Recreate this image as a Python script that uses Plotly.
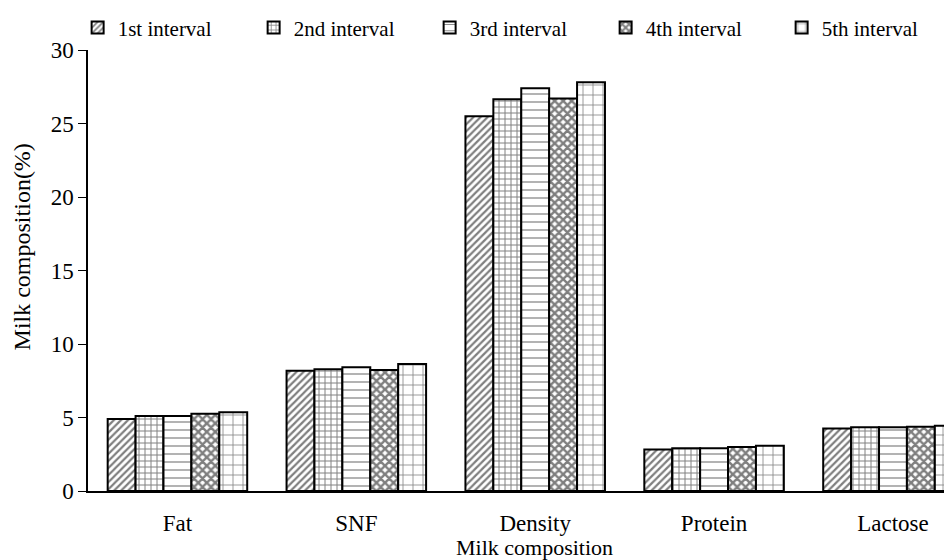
import plotly.graph_objects as go

categories = ["Fat", "SNF", "Density", "Protein", "Lactose"]
series_names = ["1st interval", "2nd interval", "3rd interval", "4th interval", "5th interval"]
interval_1 = [4.9, 8.18, 25.5, 2.83, 4.26]
interval_2 = [5.1, 8.28, 26.65, 2.90, 4.33]
interval_3 = [5.1, 8.41, 27.4, 2.90, 4.33]
interval_4 = [5.25, 8.23, 26.7, 2.99, 4.37]
interval_5 = [5.35, 8.64, 27.8, 3.08, 4.44]
y_ticks = [0, 5, 10, 15, 20, 25, 30]

series_values = [interval_1, interval_2, interval_3, interval_4, interval_5]
patterns = [
    dict(shape="/", size=5, solidity=0.45, fgcolor="black", bgcolor="white"),
    dict(shape="+", size=6, solidity=0.3, fgcolor="black", bgcolor="white"),
    dict(shape="-", size=8, solidity=0.15, fgcolor="black", bgcolor="white"),
    dict(shape="x", size=6, solidity=0.65, fgcolor="black", bgcolor="white"),
    dict(shape="+", size=10, solidity=0.15, fgcolor="black", bgcolor="white"),
]

font_family = "Liberation Serif"

fig = go.Figure()
for name, vals, pat in zip(series_names, series_values, patterns):
    fig.add_trace(go.Bar(
        x=categories, y=vals, name=name,
        marker=dict(color="white", pattern=pat, line=dict(color="black", width=2)),
    ))

fig.update_layout(
    width=944, height=552,
    barmode="group", bargap=0.22, bargroupgap=0,
    plot_bgcolor="white", paper_bgcolor="white",
    margin=dict(l=80, r=0, t=42, b=69, autoexpand=False),
    font=dict(family=font_family, size=23, color="black"),
    legend=dict(orientation="h", x=-0.012, y=1.05, xanchor="left", yanchor="middle",
                font=dict(size=21), itemwidth=30, entrywidth=131,
                bgcolor="rgba(0,0,0,0)", tracegroupgap=0),
    showlegend=True,
    annotations=[
        dict(text="Milk composition", xref="paper", yref="paper", x=0.517, y=-0.128,
             xanchor="center", yanchor="middle", showarrow=False, font=dict(size=22)),
        dict(text="Milk composition(%)", xref="paper", yref="paper", x=-0.076, y=0.553,
             xanchor="center", yanchor="middle", textangle=-90, showarrow=False,
             font=dict(size=24)),
    ],
)
fig.update_xaxes(
    range=[-0.5, 4.33], showline=True, linecolor="black", linewidth=1.5,
    ticks="", ticklen=0, showgrid=False, ticklabelstandoff=11,
)
fig.update_yaxes(
    range=[0, 30], tickvals=y_ticks, showline=True, linecolor="black", linewidth=1.5,
    ticks="outside", ticklen=8, tickcolor="black", showgrid=False, zeroline=False,
)

fig.write_html("out.html")
